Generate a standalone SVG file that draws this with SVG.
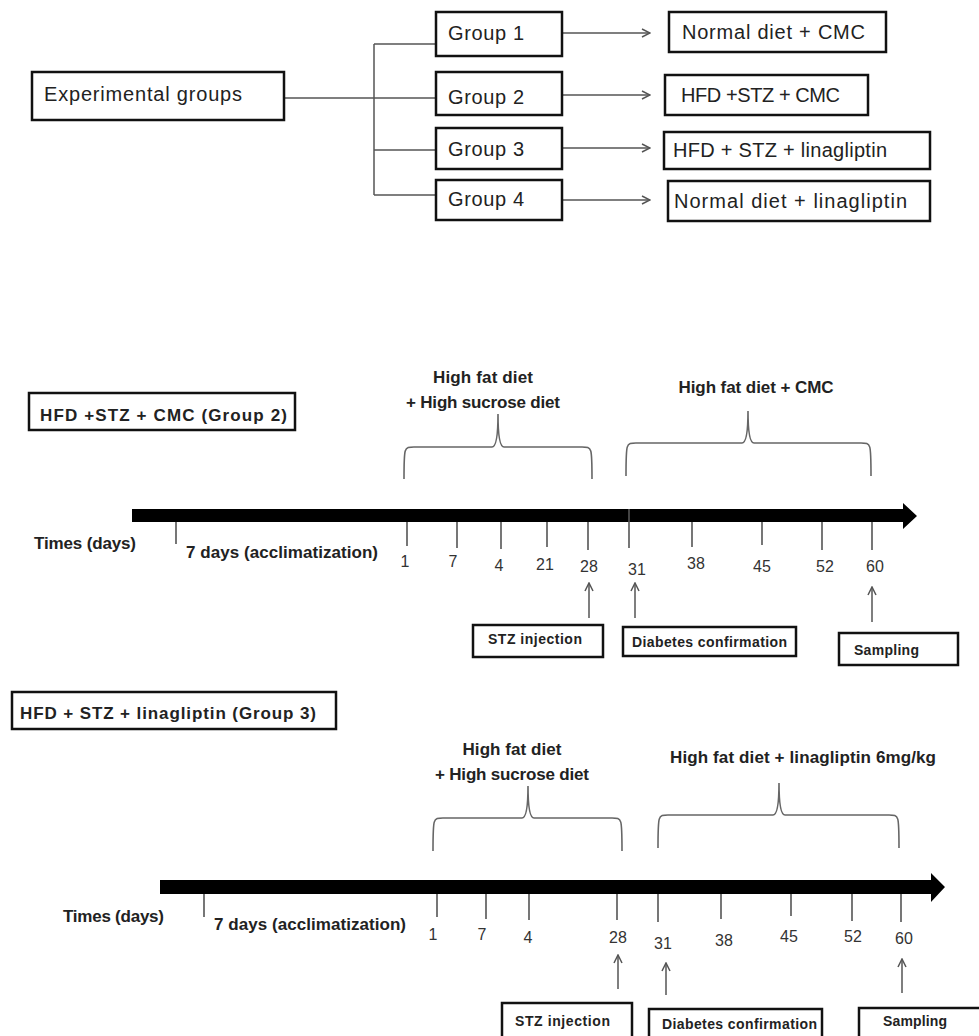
<svg xmlns="http://www.w3.org/2000/svg" width="979" height="1036" viewBox="0 0 979 1036">
<style>
text{font-family:"Liberation Sans",Arial,sans-serif;fill:#222}
.r{font-size:20px}
.b{font-size:17px;font-weight:bold}
.s{font-size:14px;font-weight:bold}
.n{font-size:16px;fill:#333;text-anchor:middle}
.box{fill:#fff;stroke:#111;stroke-width:2.5}
.ln{fill:none;stroke:#555;stroke-width:1.5}
.tk{fill:none;stroke:#555;stroke-width:1.6}
.br{fill:none;stroke:#666;stroke-width:1.6}
</style>
<defs>
<marker id="ah" viewBox="0 0 10 10" refX="9" refY="5" markerWidth="10" markerHeight="10" markerUnits="userSpaceOnUse" orient="auto">
<path d="M1,1 L9,5 L1,9" fill="none" stroke="#555" stroke-width="1.5"/>
</marker>
</defs>

<!-- Top tree -->
<g id="connectors">
<path class="ln" d="M284,98 H436"/>
<path class="ln" d="M374,44 V195 M374,44 H436 M374,150 H436 M374,195 H436"/>
<path class="ln" d="M562,33 H650" marker-end="url(#ah)"/>
<path class="ln" d="M562,95 H650" marker-end="url(#ah)"/>
<path class="ln" d="M562,148 H650" marker-end="url(#ah)"/>
<path class="ln" d="M562,200 H650" marker-end="url(#ah)"/>
</g>
<g id="experimental">
<rect class="box" x="32" y="72" width="252" height="48"/>
<text class="r" x="44" y="101" textLength="198">Experimental groups</text>
</g>
<g id="group1"><rect class="box" x="436" y="12" width="126" height="44"/><text class="r" x="448" y="40" textLength="76">Group 1</text></g>
<g id="group2"><rect class="box" x="436" y="72" width="126" height="43"/><text class="r" x="448" y="104" textLength="76">Group 2</text></g>
<g id="group3"><rect class="box" x="436" y="128" width="126" height="41"/><text class="r" x="448" y="156" textLength="76">Group 3</text></g>
<g id="group4"><rect class="box" x="436" y="180" width="126" height="40"/><text class="r" x="448" y="206" textLength="76">Group 4</text></g>
<g id="res1"><rect class="box" x="669" y="12" width="217" height="40"/><text class="r" x="682" y="39" textLength="183">Normal diet + CMC</text></g>
<g id="res2"><rect class="box" x="665" y="75" width="203" height="40"/><text class="r" x="681" y="102" textLength="159">HFD +STZ + CMC</text></g>
<g id="res3"><rect class="box" x="664" y="132" width="266" height="37"/><text class="r" x="673" y="157" textLength="214">HFD + STZ + linagliptin</text></g>
<g id="res4"><rect class="box" x="668" y="181" width="262" height="40"/><text class="r" x="674" y="208" textLength="233">Normal diet + linagliptin</text></g>

<!-- Timeline 1 -->
<g id="t1title"><rect class="box" x="29" y="393" width="266" height="37"/><text class="b" x="40" y="421" textLength="247">HFD +STZ + CMC  (Group 2)</text></g>
<g id="t1axis">
<path d="M132,509 H903 V503 L917,516 L903,529 V522 H132 Z" fill="#000"/>
<path class="tk" d="M176,522 V544 M407,522 V546 M457,522 V548 M501,522 V549 M547,522 V547 M588,522 V550 M629,509 V548 M692,522 V547 M762,522 V545 M822,522 V550 M872,522 V550"/>
<text class="b" x="34" y="549" textLength="102">Times (days)</text>
<text class="b" x="186" y="558" textLength="192">7 days (acclimatization)</text>
<text class="n" x="405" y="567">1</text>
<text class="n" x="453" y="567">7</text>
<text class="n" x="499" y="571">4</text>
<text class="n" x="545" y="570">21</text>
<text class="n" x="589" y="572">28</text>
<text class="n" x="637" y="575">31</text>
<text class="n" x="696" y="569">38</text>
<text class="n" x="762" y="572">45</text>
<text class="n" x="825" y="572">52</text>
<text class="n" x="875" y="572">60</text>
</g>
<g id="t1brace1">
<path class="br" d="M404,479 C404,447 404,447 414,447 H492 Q498,447 498,414 Q498,447 504,447 H582 C592,447 592,447 592,479"/>
<text class="b" x="483" y="383" text-anchor="middle" textLength="100">High fat diet</text>
<text class="b" x="483" y="408" text-anchor="middle" textLength="154">+ High sucrose diet</text>
</g>
<g id="t1brace2">
<path class="br" d="M626,476 C626,443 626,443 636,443 H742 Q748,443 748,411 Q748,443 754,443 H861 C871,443 871,443 871,476"/>
<text class="b" x="756" y="393" text-anchor="middle" textLength="155">High fat diet + CMC</text>
</g>
<g id="t1arrows">
<path class="ln" d="M589,618 V583" marker-end="url(#ah)"/>
<path class="ln" d="M635,618 V583" marker-end="url(#ah)"/>
<path class="ln" d="M872,622 V587" marker-end="url(#ah)"/>
</g>
<g id="t1stz"><rect class="box" x="473" y="625" width="130" height="32"/><text class="s" x="488" y="644" textLength="94">STZ  injection</text></g>
<g id="t1diab"><rect class="box" x="623" y="627" width="173" height="29"/><text class="s" x="632" y="647" textLength="155">Diabetes confirmation</text></g>
<g id="t1samp"><rect class="box" x="839" y="633" width="119" height="32"/><text class="s" x="854" y="655" textLength="65">Sampling</text></g>

<!-- Timeline 2 -->
<g id="t2title"><rect class="box" x="12" y="692" width="324" height="37"/><text class="b" x="20" y="719" textLength="296">HFD + STZ + linagliptin  (Group 3)</text></g>
<g id="t2axis">
<path d="M160,880 H931 V873 L945,887 L931,902 V894 H160 Z" fill="#000"/>
<path class="tk" d="M204,894 V917 M437,894 V917 M486,894 V919 M529,894 V920 M617,894 V920 M658,894 V922 M721,894 V919 M791,894 V916 M852,894 V921 M901,894 V922"/>
<text class="b" x="63" y="922" textLength="101">Times (days)</text>
<text class="b" x="214" y="930" textLength="192">7 days (acclimatization)</text>
<text class="n" x="433" y="940">1</text>
<text class="n" x="482" y="940">7</text>
<text class="n" x="528" y="943">4</text>
<text class="n" x="618" y="943">28</text>
<text class="n" x="663" y="949">31</text>
<text class="n" x="724" y="946">38</text>
<text class="n" x="789" y="942">45</text>
<text class="n" x="853" y="942">52</text>
<text class="n" x="904" y="944">60</text>
</g>
<g id="t2brace1">
<path class="br" d="M433,851 C433,818 433,818 443,818 H522 Q528,818 528,786 Q528,818 534,818 H612 C622,818 622,818 622,851"/>
<text class="b" x="512" y="755" text-anchor="middle" textLength="99">High fat diet</text>
<text class="b" x="512" y="780" text-anchor="middle" textLength="154">+ High sucrose diet</text>
</g>
<g id="t2brace2">
<path class="br" d="M658,848 C658,815 658,815 668,815 H773 Q779,815 779,783 Q779,815 785,815 H889 C899,815 899,815 899,848"/>
<text class="b" x="803" y="763" text-anchor="middle" textLength="266">High fat diet + linagliptin 6mg/kg</text>
</g>
<g id="t2arrows">
<path class="ln" d="M618,989 V955" marker-end="url(#ah)"/>
<path class="ln" d="M666,995 V963" marker-end="url(#ah)"/>
<path class="ln" d="M902,993 V959" marker-end="url(#ah)"/>
</g>
<g id="t2stz"><rect class="box" x="502" y="1003" width="130" height="40"/><text class="s" x="515" y="1026" textLength="95">STZ  injection</text></g>
<g id="t2diab"><rect class="box" x="649" y="1009" width="173" height="34"/><text class="s" x="662" y="1029" textLength="155">Diabetes confirmation</text></g>
<g id="t2samp"><rect class="box" x="859" y="1008" width="125" height="35"/><text class="s" x="883" y="1026" textLength="64">Sampling</text></g>
</svg>
